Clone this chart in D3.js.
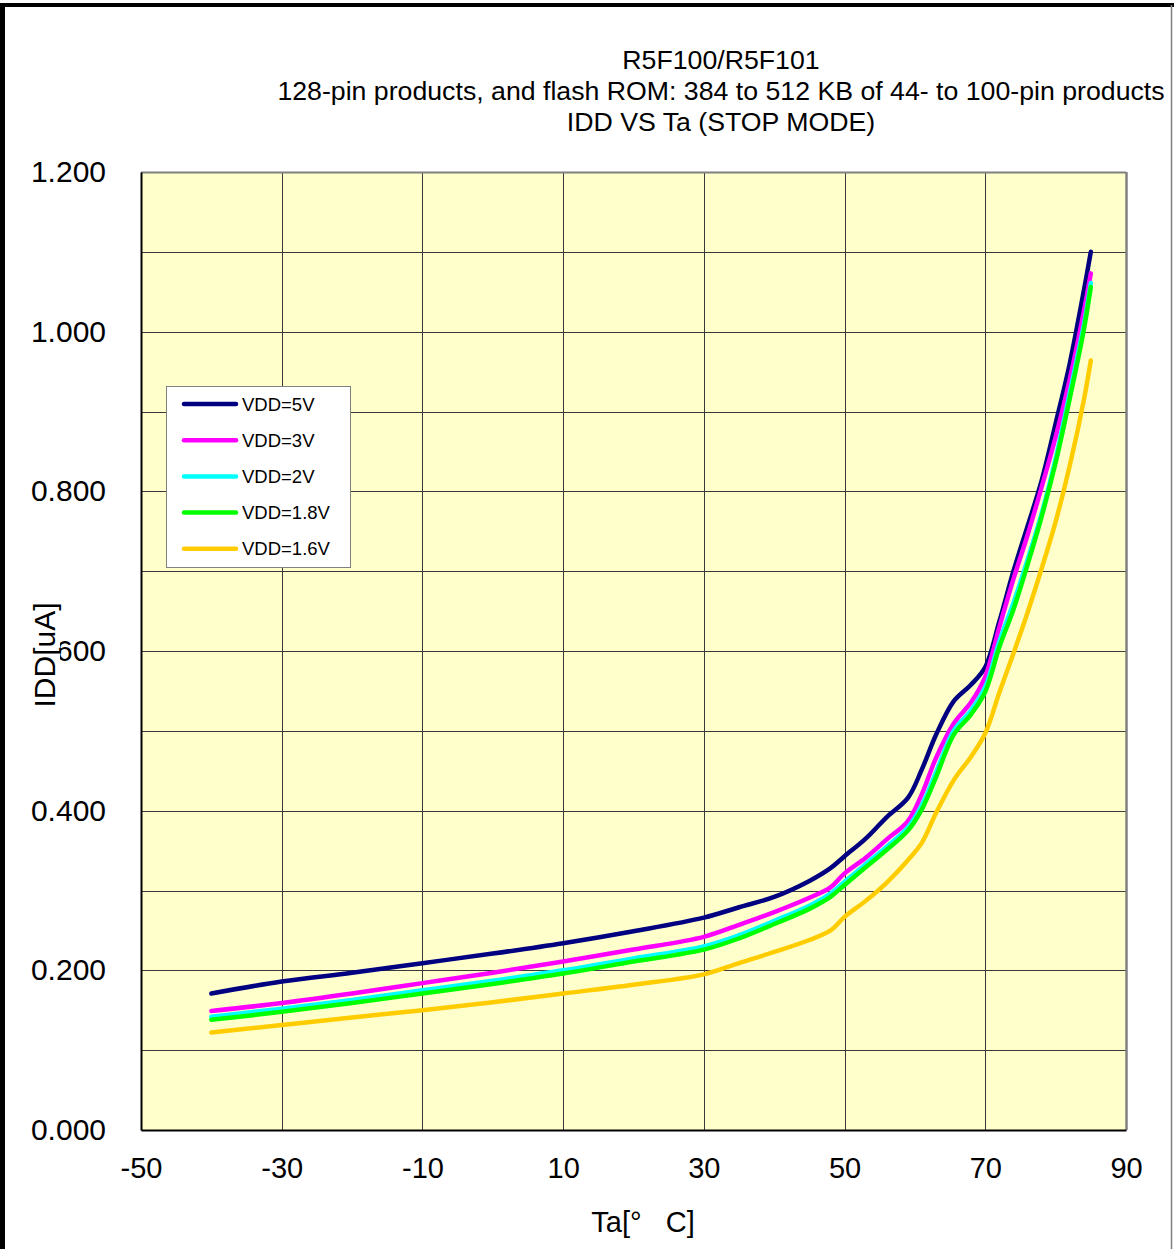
<!DOCTYPE html>
<html>
<head>
<meta charset="utf-8">
<script src="https://cdn.jsdelivr.net/npm/d3@7"></script>
<style>
  html, body { margin: 0; padding: 0; background: #fff; }
  svg { display: block; font-family: "Liberation Sans", Arial, sans-serif; }
</style>
</head>
<body>
<svg id="chart" width="1174" height="1249"></svg>
<script>
// ---- data ----
const titleLines = ["R5F100/R5F101",
  "128-pin products, and flash ROM: 384 to 512 KB of 44- to 100-pin products",
  "IDD VS Ta (STOP MODE)"];
const temps = [-40, -30, -20, -10, 0, 10, 20, 30, 35, 40, 45, 48, 50, 53, 56, 59, 61, 63, 65.5, 68, 70, 72, 74, 76, 78, 80, 82, 84, 85];
const vdd5 = [0.171, 0.186, 0.197, 0.209, 0.221, 0.234, 0.249, 0.266, 0.279, 0.292, 0.312, 0.328, 0.343, 0.365, 0.392, 0.416, 0.452, 0.495, 0.537, 0.558, 0.580, 0.637, 0.700, 0.756, 0.813, 0.885, 0.960, 1.051, 1.100];
const vdd3 = [0.149, 0.159, 0.171, 0.184, 0.197, 0.211, 0.226, 0.242, 0.257, 0.273, 0.291, 0.304, 0.3215, 0.341, 0.364, 0.387, 0.421, 0.466, 0.509, 0.536, 0.568, 0.630, 0.690, 0.745, 0.805, 0.868, 0.940, 1.025, 1.073];
const vdd2 = [0.142, 0.152, 0.163, 0.175, 0.187, 0.200, 0.215, 0.230, 0.244, 0.262, 0.281, 0.296, 0.311, 0.333, 0.355, 0.379, 0.407, 0.448, 0.500, 0.526, 0.555, 0.612, 0.660, 0.714, 0.772, 0.841, 0.923, 1.008, 1.061];
const vdd18 = [0.138, 0.148, 0.159, 0.171, 0.183, 0.196, 0.211, 0.226, 0.240, 0.258, 0.277, 0.292, 0.307, 0.329, 0.351, 0.375, 0.402, 0.442, 0.495, 0.521, 0.549, 0.605, 0.652, 0.708, 0.768, 0.836, 0.916, 1.002, 1.056];
const vdd16 = [0.122, 0.1315, 0.141, 0.150, 0.160, 0.171, 0.182, 0.195, 0.209, 0.223, 0.238, 0.250, 0.267, 0.287, 0.310, 0.338, 0.360, 0.397, 0.438, 0.468, 0.497, 0.548, 0.597, 0.648, 0.703, 0.762, 0.832, 0.914, 0.964];
const seriesNames = ["VDD=5V", "VDD=3V", "VDD=2V", "VDD=1.8V", "VDD=1.6V"];
const seriesColors = ["#000080", "#FF00FF", "#00FFFF", "#00FF00", "#FFCC00"];
const seriesValues = [vdd5, vdd3, vdd2, vdd18, vdd16];
const xTicks = [-50, -30, -10, 10, 30, 50, 70, 90];
const yTicks = [0, 0.2, 0.4, 0.6, 0.8, 1.0, 1.2];
const yGrid = [0.1, 0.2, 0.3, 0.4, 0.5, 0.6, 0.7, 0.8, 0.9, 1.0, 1.1];
const xLabel = "Ta[°\u00a0\u00a0\u00a0C]";
const yLabel = "IDD[uA]";

// ---- layout ----
const svg = d3.select("#chart");
const W = 1174, H = 1249;
const plot = {left: 141, right: 1126, top: 172, bottom: 1130};
const x = d3.scaleLinear().domain([-50, 90]).range([plot.left, plot.right]);
const y = d3.scaleLinear().domain([0, 1.2]).range([plot.bottom, plot.top]);

// outer border
svg.append("rect").attr("x", 0).attr("y", 0).attr("width", W).attr("height", H).attr("fill", "#fff");
svg.append("line").attr("x1", 2.5).attr("x2", 2.5).attr("y1", 3).attr("y2", H).attr("stroke", "#000").attr("stroke-width", 5);
svg.append("line").attr("x1", 0).attr("x2", W).attr("y1", 5).attr("y2", 5).attr("stroke", "#000").attr("stroke-width", 4);
svg.append("line").attr("x1", 1171.5).attr("x2", 1171.5).attr("y1", 5).attr("y2", H).attr("stroke", "#808080").attr("stroke-width", 1.5);

// plot background
svg.append("rect").attr("x", plot.left).attr("y", plot.top)
  .attr("width", plot.right - plot.left).attr("height", plot.bottom - plot.top)
  .attr("fill", "#FFFFCC");

// grid
const grid = svg.append("g").attr("stroke", "#3a3a3a").attr("stroke-width", 1);
grid.selectAll("line.h").data(yGrid).join("line")
  .attr("x1", plot.left).attr("x2", plot.right)
  .attr("y1", d => Math.round(y(d)) + 0.5).attr("y2", d => Math.round(y(d)) + 0.5);
grid.selectAll("line.v").data(xTicks.slice(1, -1)).join("line")
  .attr("y1", plot.top).attr("y2", plot.bottom)
  .attr("x1", d => Math.round(x(d)) + 0.5).attr("x2", d => Math.round(x(d)) + 0.5);

// frame
svg.append("line").attr("x1", plot.left).attr("x2", plot.right).attr("y1", plot.top + 0.5).attr("y2", plot.top + 0.5).attr("stroke", "#808080").attr("stroke-width", 2);
svg.append("line").attr("x1", plot.right + 0.5).attr("x2", plot.right + 0.5).attr("y1", plot.top).attr("y2", plot.bottom).attr("stroke", "#808080").attr("stroke-width", 2.5);

// axes
const xAxis = svg.append("g").attr("transform", `translate(0,${plot.bottom})`)
  .call(d3.axisBottom(x).tickValues(xTicks).tickSize(0).tickPadding(27).tickFormat(d => String(d)));
xAxis.select(".domain").attr("stroke", "#000").attr("stroke-width", 2);
xAxis.selectAll("text").attr("font-size", 29).attr("fill", "#000").attr("font-family", "Liberation Sans, Arial, sans-serif");

const yAxis = svg.append("g").attr("transform", `translate(${plot.left},0)`)
  .call(d3.axisLeft(y).tickValues(yTicks).tickSize(0).tickPadding(35).tickFormat(d3.format(".3f")));
yAxis.select(".domain").attr("stroke", "#000").attr("stroke-width", 2);
yAxis.selectAll("text").attr("font-size", 30).attr("fill", "#000").attr("font-family", "Liberation Sans, Arial, sans-serif");

// axis titles
svg.append("text").attr("x", 643).attr("y", 1232).attr("text-anchor", "middle")
  .attr("font-size", 29).attr("fill", "#000").text(xLabel);
const yl = svg.append("g").attr("transform", "translate(55,655) rotate(-90)");
yl.append("rect").attr("x", -53).attr("y", -25).attr("width", 106).attr("height", 30).attr("fill", "#fff");
yl.append("text").attr("x", 0).attr("y", 0).attr("text-anchor", "middle")
  .attr("font-size", 30).attr("fill", "#000").text(yLabel);

// title
svg.append("g").selectAll("text").data(titleLines).join("text")
  .attr("x", 721).attr("y", (d, i) => 69 + i * 31).attr("text-anchor", "middle")
  .attr("font-size", 26.7).attr("fill", "#000").text(d => d);

// lines
const line = d3.line().x(d => x(d[0])).y(d => y(d[1])).curve(d3.curveCatmullRom.alpha(0.5));
svg.append("g").selectAll("path").data(seriesValues).join("path")
  .attr("d", vals => line(temps.map((t, i) => [t, vals[i]])))
  .attr("fill", "none")
  .attr("stroke", (d, i) => seriesColors[i])
  .attr("stroke-width", 4.5)
  .attr("stroke-linecap", "round")
  .attr("stroke-linejoin", "round");

// legend
const lg = svg.append("g").attr("transform", "translate(166,386)");
lg.append("rect").attr("x", 0.5).attr("y", 0.5).attr("width", 184).attr("height", 181)
  .attr("fill", "#fff").attr("stroke", "#808080").attr("stroke-width", 1);
const items = lg.selectAll("g.item").data(seriesNames).join("g")
  .attr("transform", (d, i) => `translate(0,${18 + i * 36.2})`);
items.append("line").attr("x1", 18).attr("x2", 70).attr("y1", 0).attr("y2", 0)
  .attr("stroke", (d, i) => seriesColors[i]).attr("stroke-width", 4.5).attr("stroke-linecap", "round");
items.append("text").attr("x", 76).attr("y", 6.5).attr("font-size", 18.5).attr("fill", "#000").text(d => d);
</script>
</body>
</html>
